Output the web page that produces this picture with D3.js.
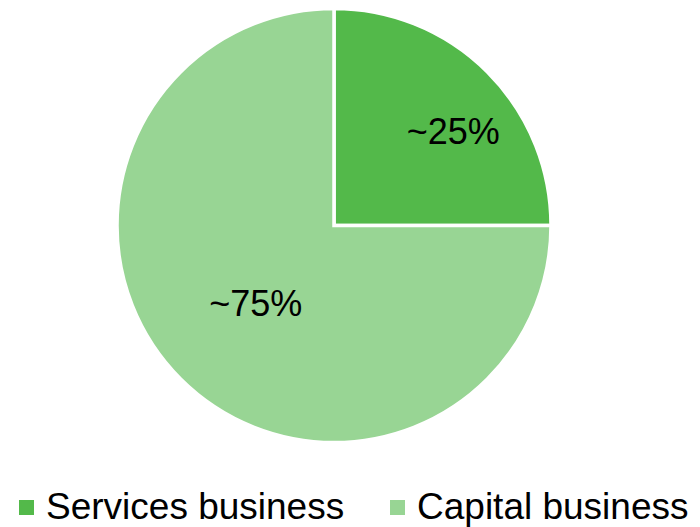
<!DOCTYPE html>
<html><head><meta charset="utf-8">
<script src="https://cdn.jsdelivr.net/npm/d3@7"></script>
<style>body{margin:0;background:#fff}svg{display:block}</style>
</head><body>
<svg id="c" width="700" height="527"></svg>
<script>
const categories = ["Services business", "Capital business"];
const values = [25, 75];
const labels = ["~25%", "~75%"];
const colors = ["#53b94a", "#98d594"];

const svg = d3.select("#c");
const cx = 334, cy = 225.5, r = 217;
const font = "Liberation Sans, Arial, sans-serif";
const pie = d3.pie().sort(null).value(d => d)(values);
const arc = d3.arc().innerRadius(0).outerRadius(r);
const g = svg.append("g").attr("transform", `translate(${cx},${cy})`);
g.selectAll("path").data(pie).join("path")
  .attr("d", arc).attr("fill", (d, i) => colors[i])
  .attr("stroke", "#fff").attr("stroke-width", 3.5).attr("stroke-linejoin", "miter");

// label layout (like Excel best-fit placement)
const la = d3.arc().innerRadius(r * 0.51).outerRadius(r * 0.51);
const labelNudge = [[41, -16], [0, 0]];
g.selectAll("text").data(pie).join("text")
  .attr("transform", (d, i) => {
    const [x, y] = la.centroid(d);
    return `translate(${x + labelNudge[i][0]},${y + labelNudge[i][1]})`;
  })
  .attr("text-anchor", "middle").attr("dy", "0.35em")
  .attr("font-family", font).attr("font-size", 36)
  .attr("fill", "#000").text((d, i) => labels[i]);

const legX = [19, 390];
const lg = svg.append("g");
categories.forEach((c, i) => {
  lg.append("rect").attr("x", legX[i]).attr("y", 500).attr("width", 15).attr("height", 15).attr("fill", colors[i]);
  lg.append("text").attr("x", legX[i] + 27).attr("y", 519)
    .attr("font-family", font).attr("font-size", 37)
    .attr("fill", "#000").text(c);
});
</script>
</body></html>
